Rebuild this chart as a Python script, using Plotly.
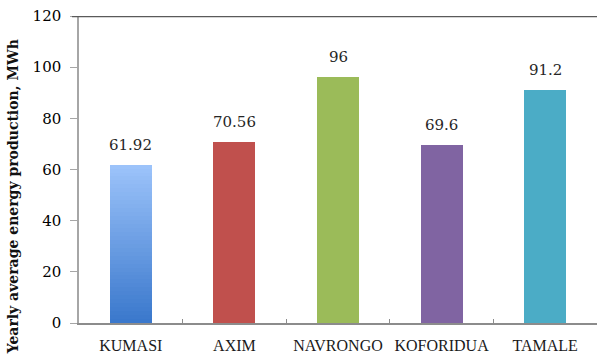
import plotly.graph_objects as go

# Yearly average energy production per site (MWh)
sites = ["KUMASI", "AXIM", "NAVRONGO", "KOFORIDUA", "TAMALE"]
production = [61.92, 70.56, 96, 69.6, 91.2]
value_labels = ["61.92", "70.56", "96", "69.6", "91.2"]
bar_colors = ["#4A86D6", "#C0504D", "#9BBB59", "#8064A2", "#4BACC6"]

y_ticks = [0, 20, 40, 60, 80, 100, 120]

fig = go.Figure()

# first bar is shaded top-to-bottom: drawn as a stack of thin slices of its value
n_slices = 40
top_rgb = (156, 195, 250)
bottom_rgb = (58, 120, 204)
first_val = production[0]
for i in range(n_slices):
    t = i / (n_slices - 1)
    rgb = tuple(round(b + (tp - b) * t) for b, tp in zip(bottom_rgb, top_rgb))
    fig.add_trace(go.Bar(
        x=[sites[0]], y=[first_val / n_slices],
        marker=dict(color="rgb(%d,%d,%d)" % rgb, line=dict(width=0)),
        width=0.405, showlegend=False, hoverinfo="skip",
    ))

fig.add_trace(go.Bar(
    x=sites[1:], y=production[1:],
    marker=dict(color=bar_colors[1:], line=dict(width=0)),
    width=0.405, showlegend=False,
))

for s, v, lab in zip(sites, production, value_labels):
    fig.add_annotation(
        x=s, y=v, text=lab, showarrow=False, yanchor="bottom", yshift=9,
        font=dict(family="DejaVu Serif", size=15, color="#262626"),
    )

# y-axis title
fig.add_annotation(
    xref="paper", yref="paper", x=-0.127, y=0.41, text="<b>Yearly average energy production, MWh</b>",
    textangle=-90, showarrow=False, xanchor="center", yanchor="middle",
    font=dict(family="DejaVu Serif", size=14, color="#111111"),
)

# dark rule across the top of the plot
fig.add_shape(
    type="line", xref="paper", yref="y", x0=-7 / 518, x1=1, y0=120, y1=120,
    line=dict(color="#5a5a5a", width=2.5),
)

fig.update_layout(
    width=597, height=358,
    margin=dict(l=79, r=0, t=16, b=35),
    barmode="stack",
    plot_bgcolor="white", paper_bgcolor="white",
    showlegend=False,
    xaxis=dict(
        categoryorder="array", categoryarray=sites,
        showline=True, linecolor="#8c8c8c", linewidth=1.5,
        ticks="inside", tickson="boundaries", ticklen=4, tickcolor="#8c8c8c",
        tickfont=dict(family="Liberation Serif", size=16, color="#1a1a1a"),
        tickangle=0, automargin=False,
        ticklabelstandoff=7,
        showgrid=False, zeroline=False,
    ),
    yaxis=dict(
        range=[0, 120], tickvals=y_ticks,
        showline=True, linecolor="#a6a6a6", linewidth=1.5,
        ticks="outside", ticklen=7, tickcolor="#a6a6a6",
        tickfont=dict(family="DejaVu Serif", size=15, color="#000000"),
        ticklabelstandoff=6, automargin=False,
        showgrid=False, zeroline=False,
    ),
)

fig.write_html("out.html")
